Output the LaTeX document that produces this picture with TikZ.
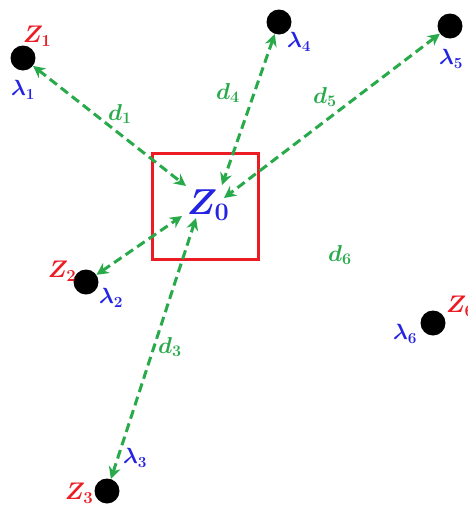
\RequirePackage{fix-cm}
\documentclass[tikz,border=0pt]{standalone}
\usepackage{amsmath,bm}
\usetikzlibrary{arrows.meta}
\definecolor{zred}{RGB}{235,28,36}
\definecolor{lblue}{RGB}{35,35,225}
\definecolor{dgreen}{RGB}{40,170,75}
\begin{document}
\begin{tikzpicture}[x=1pt,y=-1pt,
  dot/.style={circle,fill=black,minimum size=25pt,inner sep=0pt},
  darr/.style={draw=dgreen,line width=3pt,dash pattern=on 9pt off 5pt,
    {Stealth[length=12pt,width=12pt]}-{Stealth[length=12pt,width=12pt]}},
  zlab/.style={text=zred,font=\fontsize{24}{24}\selectfont\boldmath,inner sep=0pt},
  llab/.style={text=lblue,font=\fontsize{22}{22}\selectfont\boldmath,inner sep=0pt},
  dlab/.style={text=dgreen,font=\fontsize{23}{23}\selectfont\boldmath,inner sep=0pt}]
\useasboundingbox (0,0) rectangle (468,507);
\node[draw=zred,line width=3pt,minimum size=106pt,inner sep=0pt] (box) at (205,206) {};
\node[text=lblue,font=\fontsize{36}{36}\selectfont\boldmath,inner sep=0pt] (z0) at (208,205) {$Z_0$};
\node[dot] (p1) at (23,58) {};
\node[dot] (p2) at (86,282) {};
\node[dot] (p3) at (107,491) {};
\node[dot] (p4) at (279,22) {};
\node[dot] (p5) at (450,26) {};
\node[dot] (p6) at (433,323) {};
\coordinate (e1) at (186,186);
\coordinate (e2) at (182,216);
\coordinate (e3) at (196,218);
\coordinate (e4) at (222,185);
\coordinate (e5) at (224,198);
\draw[darr] (p1) -- (e1);
\draw[darr] (p2) -- (e2);
\draw[darr] (p3) -- (e3);
\draw[darr] (p4) -- (e4);
\draw[darr] (p5) -- (e5);
\node[zlab] (zl1) at (37,36) {$Z_1$};
\node[zlab] (zl2) at (62,271) {$Z_2$};
\node[zlab] (zl3) at (79,493) {$Z_3$};
\node[zlab,anchor=west] (zl6) at (446,306) {$Z_6$};
\node[llab] (l1) at (23,90) {$\lambda_1$};
\node[llab] (l2) at (111,298) {$\lambda_2$};
\node[llab] (l3) at (135,458) {$\lambda_3$};
\node[llab] (l4) at (299,42) {$\lambda_4$};
\node[llab] (l5) at (451,59) {$\lambda_5$};
\node[llab] (l6) at (405,334) {$\lambda_6$};
\node[dlab] (d1) at (120,114) {$d_1$};
\node[dlab] (d3) at (170,347) {$d_3$};
\node[dlab] (d4) at (228,93) {$d_4$};
\node[dlab] (d5) at (325,97) {$d_5$};
\node[dlab] (d6) at (340,255) {$d_6$};
\end{tikzpicture}
\end{document}
